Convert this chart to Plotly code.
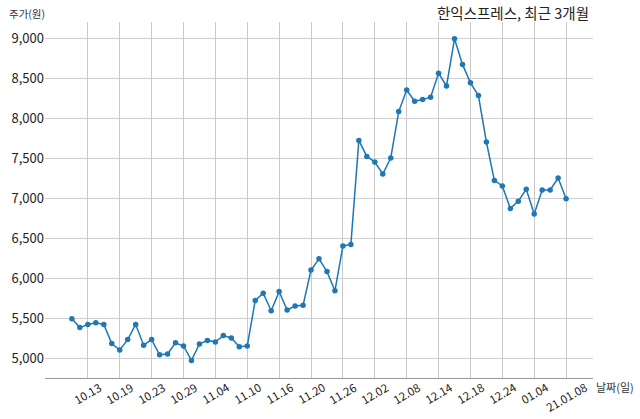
import plotly.graph_objects as go

# trading days, 2020-10-08 .. 2021-01-08
dates = [
    "10.08", "10.12", "10.13", "10.14", "10.15", "10.16",
    "10.19", "10.20", "10.21", "10.22", "10.23",
    "10.26", "10.27", "10.28", "10.29", "10.30",
    "11.02", "11.03", "11.04", "11.05", "11.06",
    "11.09", "11.10", "11.11", "11.12", "11.13",
    "11.16", "11.17", "11.18", "11.19", "11.20",
    "11.23", "11.24", "11.25", "11.26", "11.27",
    "11.30", "12.01", "12.02", "12.03", "12.04",
    "12.07", "12.08", "12.09", "12.10", "12.11",
    "12.14", "12.15", "12.16", "12.17", "12.18",
    "12.21", "12.22", "12.23", "12.24",
    "12.28", "12.29", "12.30",
    "01.04", "01.05", "01.06", "01.07", "01.08",
]
prices = [
    5490, 5380, 5420, 5440, 5420, 5180,
    5100, 5230, 5420, 5160, 5230,
    5040, 5050, 5190, 5150, 4970,
    5175, 5220, 5200, 5280, 5250,
    5140, 5150, 5720, 5810, 5590,
    5830, 5600, 5650, 5660, 6100,
    6240, 6080, 5840, 6400, 6420,
    7720, 7520, 7450, 7300, 7500,
    8080, 8350, 8210, 8230, 8260,
    8560, 8400, 8990, 8670, 8440,
    8280, 7700, 7220, 7150,
    6870, 6960, 7110,
    6800, 7100, 7100, 7250, 6990,
]
tick_dates = ["10.13", "10.19", "10.23", "10.29", "11.04", "11.10", "11.16", "11.20",
              "11.26", "12.02", "12.08", "12.14", "12.18", "12.24", "01.04", "01.08"]
tick_text = ["10.13", "10.19", "10.23", "10.29", "11.04", "11.10", "11.16", "11.20",
             "11.26", "12.02", "12.08", "12.14", "12.18", "12.24", "01.04", "21.01.08"]
y_ticks = [5000, 5500, 6000, 6500, 7000, 7500, 8000, 8500, 9000]

FONT = "Noto Sans CJK KR"
BLUE = "#1f77b4"

fig = go.Figure()
fig.add_trace(go.Scatter(
    x=dates, y=prices, mode="lines+markers",
    line=dict(color=BLUE, width=1.5),
    marker=dict(color=BLUE, size=5.5),
    showlegend=False,
))

# rotated date labels centred under each grid line
# (category names look numeric, so annotations take the category index)
for d, t in zip(tick_dates, tick_text):
    fig.add_annotation(
        x=dates.index(d), xref="x", y=0, yref="paper", text=t, showarrow=False,
        textangle=-30, xanchor="center", yanchor="top", yshift=2,
        font=dict(family=FONT, size=11.5, color="#222222"),
    )

fig.add_annotation(x=0, xref="paper", xanchor="right", xshift=2, y=1, yref="paper",
                   yanchor="bottom", yshift=-1, text="주가(원)", showarrow=False,
                   font=dict(family=FONT, size=10.5, color="#333333"))
fig.add_annotation(x=1, xref="paper", xanchor="left", xshift=1, y=0, yref="paper",
                   yanchor="middle", yshift=-9, text="날짜(일)", showarrow=False,
                   font=dict(family=FONT, size=11, color="#333333"))
fig.add_annotation(x=1, xref="paper", xanchor="right", xshift=-2, y=1, yref="paper",
                   yanchor="bottom", yshift=-3, text="한익스프레스, 최근 3개월", showarrow=False,
                   font=dict(family=FONT, size=14.5, color="#222222"))

fig.update_xaxes(
    type="category", range=[-3.375, 65.375],
    tickmode="array", tickvals=tick_dates, showticklabels=False,
    showgrid=True, gridcolor="#c8c8c8", gridwidth=1,
    showline=True, linecolor="#999999", linewidth=1,
    ticks="", zeroline=False,
)
fig.update_yaxes(
    range=[4750, 9200], tickvals=y_ticks, tickformat=",d",
    showgrid=True, gridcolor="#d0d0d0", gridwidth=1,
    showline=False, ticks="", zeroline=False,
    tickfont=dict(family=FONT, size=13, color="#222222"),
)
fig.update_layout(
    width=640, height=419,
    margin=dict(l=43, r=47, t=22, b=41),
    paper_bgcolor="white", plot_bgcolor="white",
    font=dict(family=FONT),
)
fig.write_html("out.html", config={"displayModeBar": False},
               post_script="document.body.style.margin = '0';")
